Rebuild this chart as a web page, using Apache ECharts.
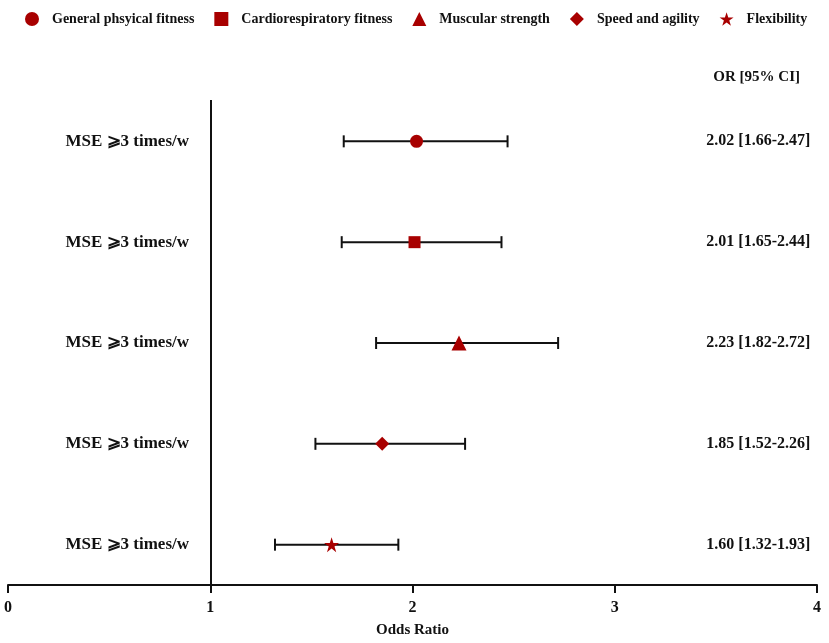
<!DOCTYPE html>
<html lang="en">
<head>
    <meta charset="UTF-8">
    <title>Odds Ratio forest plot</title>
    <style>
        html,body{margin:0;padding:0;background:#fff;}
        #main{width:829px;height:643px;}
    </style>
</head>
<body>
<div id="main"></div>
<script src="https://cdn.jsdelivr.net/npm/echarts@6/dist/echarts.min.js"></script>
<script>
// 行标签
const rowLabels=['MSE ⩾3 times/w','MSE ⩾3 times/w','MSE ⩾3 times/w','MSE ⩾3 times/w','MSE ⩾3 times/w'];
// 系列名
const seriesNames=['General phsyical fitness','Cardiorespiratory fitness','Muscular strength','Speed and agility','Flexibility'];
const symbols=['circle','rect','triangle','diamond','path://M50,0 L61.8,35.3 L98.9,35.3 L68.8,57.2 L80.2,92.6 L50,70.7 L19.8,92.6 L31.2,57.2 L1.1,35.3 L38.2,35.3 Z'];
const symbolSizes=[13,12,15,14,15];
// OR 及 95% CI
const orValues=[2.02,2.01,2.23,1.85,1.60];
const ciLow=[1.66,1.65,1.82,1.52,1.32];
const ciHigh=[2.47,2.44,2.72,2.26,1.93];
// 行位置 (从上到下)
const rowPos=[5,4,3,2,1];
// x 轴刻度
const xTicks=[0,1,2,3,4];

const red='#a80000';
const font='"Liberation Serif","Times New Roman",serif';

const myChart=echarts.init(document.getElementById('main'));

const markerSeries=seriesNames.map((name,i)=>({
    name:name,
    type:'scatter',
    symbol:symbols[i],
    symbolSize:symbolSizes[i],
    itemStyle:{color:red,opacity:1},
    z:5,
    data:[[orValues[i],rowPos[i]]]
}));

const option={
    animation:false,
    title:{
        text:'OR [95% CI]',
        right:24,
        top:65,
        textStyle:{fontFamily:font,fontWeight:'bold',fontSize:15,color:'#111'}
    },
    legend:{
        top:7,
        left:20,
        itemGap:20,
        itemWidth:14,
        itemHeight:14,
        data:seriesNames.map((n,i)=>({name:n,icon:symbols[i],itemStyle:{color:red,opacity:1}})),
        textStyle:{fontFamily:font,fontWeight:'bold',fontSize:14,color:'#111',padding:[0,0,0,8]}
    },
    grid:{left:8,right:12,top:100,bottom:52,containLabel:false},
    xAxis:{
        type:'value',
        min:0,max:4,interval:1,
        name:'Odds Ratio',
        nameLocation:'middle',
        nameGap:38,
        nameTextStyle:{fontFamily:font,fontWeight:'bold',fontSize:15,color:'#111'},
        axisLine:{lineStyle:{color:'#111',width:2}},
        axisTick:{show:true,length:8,lineStyle:{color:'#111',width:2}},
        axisLabel:{fontFamily:font,fontWeight:'bold',fontSize:16,color:'#111',margin:15,
            formatter:v=>xTicks.includes(v)?String(v):''},
        splitLine:{show:false}
    },
    yAxis:{type:'value',min:0.6,max:5.41,show:false},
    series:[
        {
            // 误差线
            type:'custom',
            z:2,
            clip:false,
            data:rowPos.map((r,i)=>[ciLow[i],ciHigh[i],r]),
            renderItem:(params,api)=>{
                const a=api.coord([api.value(0),api.value(2)]);
                const b=api.coord([api.value(1),api.value(2)]);
                const h=6;
                const st={stroke:'#111',lineWidth:2};
                return {type:'group',children:[
                    {type:'line',shape:{x1:a[0],y1:a[1],x2:b[0],y2:b[1]},style:st},
                    {type:'line',shape:{x1:a[0],y1:a[1]-h,x2:a[0],y2:a[1]+h},style:st},
                    {type:'line',shape:{x1:b[0],y1:b[1]-h,x2:b[0],y2:b[1]+h},style:st}
                ]};
            },
            markLine:{
                silent:true,
                symbol:'none',
                label:{show:false},
                lineStyle:{color:'#111',width:2,type:'solid'},
                data:[{xAxis:1}]
            }
        },
        {
            // 左侧行标签
            type:'scatter',
            symbolSize:0,
            silent:true,
            clip:false,
            itemStyle:{opacity:1},
            data:rowPos.map((r,i)=>({value:[0.9,r],name:rowLabels[i]})),
            label:{show:true,position:'left',distance:1,formatter:p=>p.name,
                fontFamily:font,fontWeight:'bold',fontSize:17,color:'#111'}
        },
        {
            // 右侧 OR 文本
            type:'scatter',
            symbolSize:0,
            silent:true,
            clip:false,
            itemStyle:{opacity:1},
            data:rowPos.map((r,i)=>({value:[3.71,r],
                name:orValues[i].toFixed(2)+' ['+ciLow[i].toFixed(2)+'-'+ciHigh[i].toFixed(2)+']'})),
            label:{show:true,position:'inside',formatter:p=>p.name,
                fontFamily:font,fontWeight:'bold',fontSize:16,color:'#111'}
        },
        ...markerSeries
    ]
};

myChart.setOption(option);
</script>
</body>
</html>
